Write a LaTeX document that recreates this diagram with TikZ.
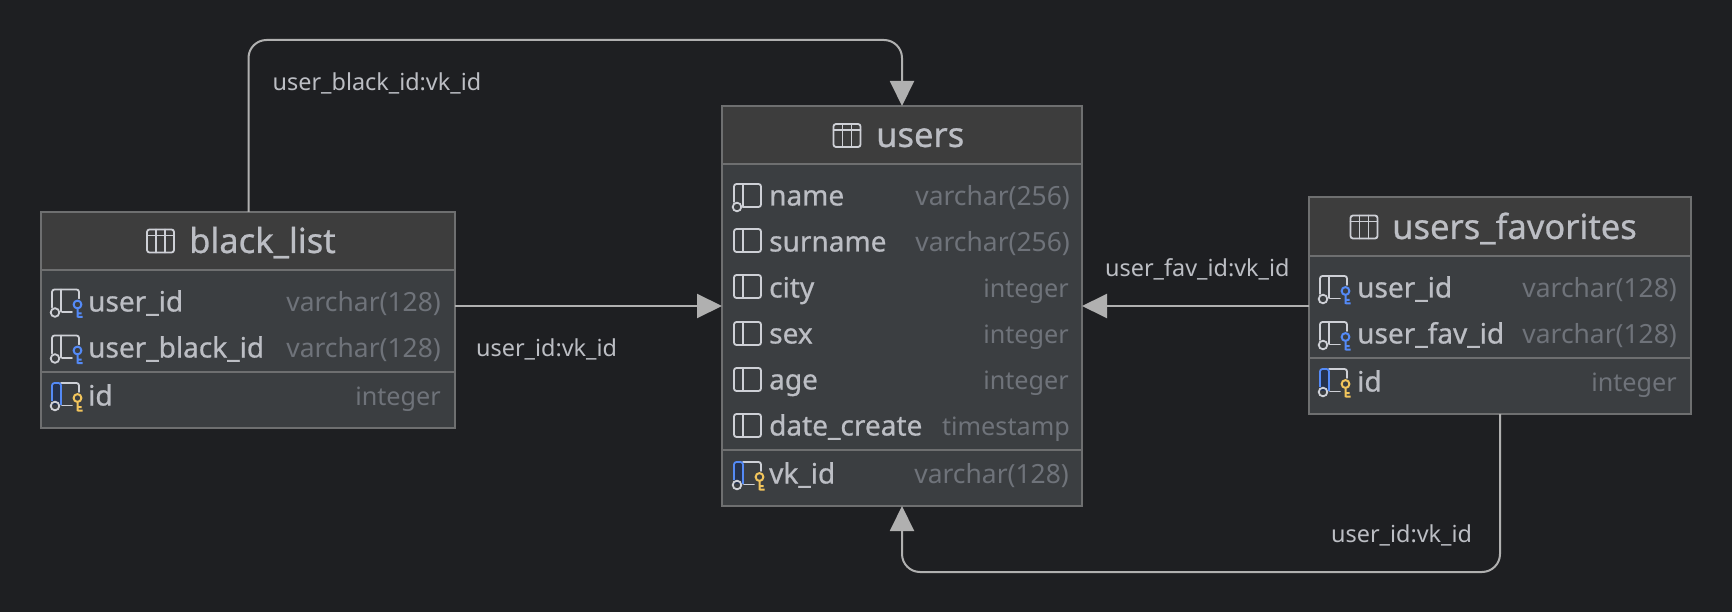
\documentclass[tikz,border=0pt]{standalone}
\usepackage{fontspec}
\setmainfont{Noto Sans}
\newfontfamily\boldish[FakeBold=0.7]{Noto Sans}
\usetikzlibrary{arrows.meta,calc}
\definecolor{bgc}{HTML}{1E1F22}
\definecolor{hdrc}{HTML}{3D3D3D}
\definecolor{bodyc}{HTML}{3B3E41}
\definecolor{edgec}{HTML}{6E6F70}
\definecolor{txtc}{HTML}{BCBEC4}
\definecolor{typec}{HTML}{6F737A}
\definecolor{linec}{HTML}{B0B0B0}
\definecolor{iconc}{HTML}{CED0D6}
\definecolor{bluec}{HTML}{548AF7}
\definecolor{bluefill}{HTML}{25324D}
\definecolor{goldc}{HTML}{F2C55C}
\tikzset{
  x=1pt,y=-1pt,
  tbl/.style={draw=edgec,line width=1.6pt,fill=bodyc,inner sep=0pt,outer sep=0pt},
  sepline/.style={draw=edgec,line width=1.8pt},
  title/.style={font=\boldish\fontsize{34.5}{40}\selectfont,text=txtc,anchor=base west,inner sep=0pt},
  colname/.style={font=\boldish\fontsize{28}{32}\selectfont,text=txtc,anchor=base west,inner sep=0pt},
  coltype/.style={font=\fontsize{26.4}{30}\selectfont,text=typec,anchor=base east,inner sep=0pt},
  coltypeb/.style={font=\fontsize{25.2}{30}\selectfont,text=typec,anchor=base east,inner sep=0pt},
  lbl/.style={font=\fontsize{23.4}{27}\selectfont,text=txtc,anchor=base west,inner sep=0pt},
  conn/.style={draw=linec,line width=2pt,-{Triangle[length=25pt,width=24pt,fill=linec]},rounded corners=18pt},
  ico/.style={draw=iconc,line width=1.8pt,line cap=round},
  tableicon/.pic={
    \draw[ico,rounded corners=2.5pt] (0,0) rectangle (27,23);
    \draw[ico] (0,6)--(27,6) (9,0)--(9,23) (18,0)--(18,23);
  },
  plainicon/.pic={
    \draw[ico,rounded corners=2.5pt] (0,0) rectangle (27,23);
    \draw[ico] (9,0)--(9,23);
  },
  nullicon/.pic={
    \draw[ico,rounded corners=2.5pt] (0,18)--(0,0)--(27,0)--(27,23)--(9,23);
    \draw[ico] (9,0)--(9,23);
    \draw[ico] (3,23) circle[radius=4.3];
  },
  fkicon/.pic={
    \draw[ico,rounded corners=2.5pt] (0,18)--(0,0)--(27,0)--(27,9);
    \draw[ico] (9,0)--(9,22) (10,22.5)--(20,22.5);
    \draw[ico] (3,23) circle[radius=4.3];
    \draw[draw=bluec,line width=2pt] (25.5,15) circle[radius=3.9] (25.5,18.9)--(25.5,28) (25.5,27.5)--(30.5,27.5) (25.5,24)--(29.5,24);
  },
  pkicon/.pic={
    \fill[bluefill] (0,0) rectangle (9,22);
    \draw[ico,rounded corners=2.5pt] (9,0)--(27,0)--(27,9);
    \draw[ico] (10,22.5)--(20,22.5);
    \draw[draw=bluec,line width=1.8pt,rounded corners=2.5pt] (0,18)--(0,0)--(9,0)--(9,22);
    \draw[ico] (3,23) circle[radius=4.3];
    \draw[draw=goldc,line width=2pt] (25.5,15) circle[radius=3.9] (25.5,18.9)--(25.5,28) (25.5,27.5)--(30.5,27.5) (25.5,24)--(29.5,24);
  },
}
\begin{document}
\begin{tikzpicture}
\fill[bgc] (0,0) rectangle (1732,612);
\useasboundingbox (0,0) rectangle (1732,612);

% black_list
\node[tbl,minimum width=414pt,minimum height=216pt] (black) at (248,320) {};
\fill[hdrc] (black.north west) rectangle (black.east |- 0,270);
\draw[edgec,line width=1.6pt] (black.north west) rectangle (black.south east);
\draw[sepline] (black.west |- 0,270) -- (black.east |- 0,270);
\draw[sepline] (black.west |- 0,372) -- (black.east |- 0,372);
\pic at (147,229.5) {tableicon};
\node[title] (blt) at (189,253) {black\_list};
\pic at (52,289.5) {fkicon};
\node[colname] (bl1) at (88,311.5) {user\_id};
\node[coltype] (bl1t) at (441,311.5) {varchar(128)};
\pic at (52,335.5) {fkicon};
\node[colname] (bl2) at (88,357.5) {user\_black\_id};
\node[coltype] (bl2t) at (441,357.5) {varchar(128)};
\pic at (52,383) {pkicon};
\node[colname] (bl3) at (88,405.5) {id};
\node[coltypeb] (bl3t) at (441,405.5) {integer};

% users
\node[tbl,minimum width=360pt,minimum height=400pt] (users) at (902,306) {};
\fill[hdrc] (users.north west) rectangle (users.east |- 0,164);
\draw[edgec,line width=1.6pt] (users.north west) rectangle (users.south east);
\draw[sepline] (users.west |- 0,164) -- (users.east |- 0,164);
\draw[sepline] (users.west |- 0,450) -- (users.east |- 0,450);
\pic at (833.5,124) {tableicon};
\node[title] (ut) at (876,147) {users};
\pic at (734,184) {nullicon};
\node[colname] (u1) at (769,205.5) {name};
\node[coltype] (u1t) at (1070,205.5) {varchar(256)};
\pic at (734,229) {plainicon};
\node[colname] (u2) at (769,251.5) {surname};
\node[coltype] (u2t) at (1070,251.5) {varchar(256)};
\pic at (734,275) {plainicon};
\node[colname] (u3) at (769,297.5) {city};
\node[coltypeb] (u3t) at (1069,297.5) {integer};
\pic at (734,322) {plainicon};
\node[colname] (u4) at (769,343.5) {sex};
\node[coltypeb] (u4t) at (1069,343.5) {integer};
\pic at (734,368) {plainicon};
\node[colname] (u5) at (769,389.5) {age};
\node[coltypeb] (u5t) at (1069,389.5) {integer};
\pic at (734,414) {plainicon};
\node[colname] (u6) at (769,435.5) {date\_create};
\node[coltypeb] (u6t) at (1070,435.5) {timestamp};
\pic at (734,462) {pkicon};
\node[colname] (u7) at (769,483.5) {vk\_id};
\node[coltype] (u7t) at (1069,483.5) {varchar(128)};

% users_favorites
\node[tbl,minimum width=382pt,minimum height=217pt] (fav) at (1500,305.5) {};
\fill[hdrc] (fav.north west) rectangle (fav.east |- 0,256);
\draw[edgec,line width=1.6pt] (fav.north west) rectangle (fav.south east);
\draw[sepline] (fav.west |- 0,256) -- (fav.east |- 0,256);
\draw[sepline] (fav.west |- 0,358) -- (fav.east |- 0,358);
\pic at (1350.5,215.5) {tableicon};
\node[title] (ft) at (1392,239) {users\_favorites};
\pic at (1320,276) {fkicon};
\node[colname] (f1) at (1357,297.5) {user\_id};
\node[coltype] (f1t) at (1677,297.5) {varchar(128)};
\pic at (1320,322) {fkicon};
\node[colname] (f2) at (1357,343.5) {user\_fav\_id};
\node[coltype] (f2t) at (1677,343.5) {varchar(128)};
\pic at (1320,369) {pkicon};
\node[colname] (f3) at (1357,391.5) {id};
\node[coltypeb] (f3t) at (1677,391.5) {integer};

% connectors
\coordinate (topbend) at (248.5,40);
\coordinate (botbend) at (1200,572);
\draw[conn] (topbend |- black.north) -- (topbend) -| (users.north);
\draw[conn] (black.east |- users.west) -- (users.west);
\draw[conn] (fav.west |- users.east) -- (users.east);
\draw[conn] (fav.south) |- (botbend) -| (users.south);

\node[lbl] (l1) at (272.5,90.5) {user\_black\_id:vk\_id};
\node[lbl] (l2) at (476,356) {user\_id:vk\_id};
\node[lbl] (l3) at (1105,276.5) {user\_fav\_id:vk\_id};
\node[lbl] (l4) at (1331,542) {user\_id:vk\_id};
\end{tikzpicture}
\end{document}
